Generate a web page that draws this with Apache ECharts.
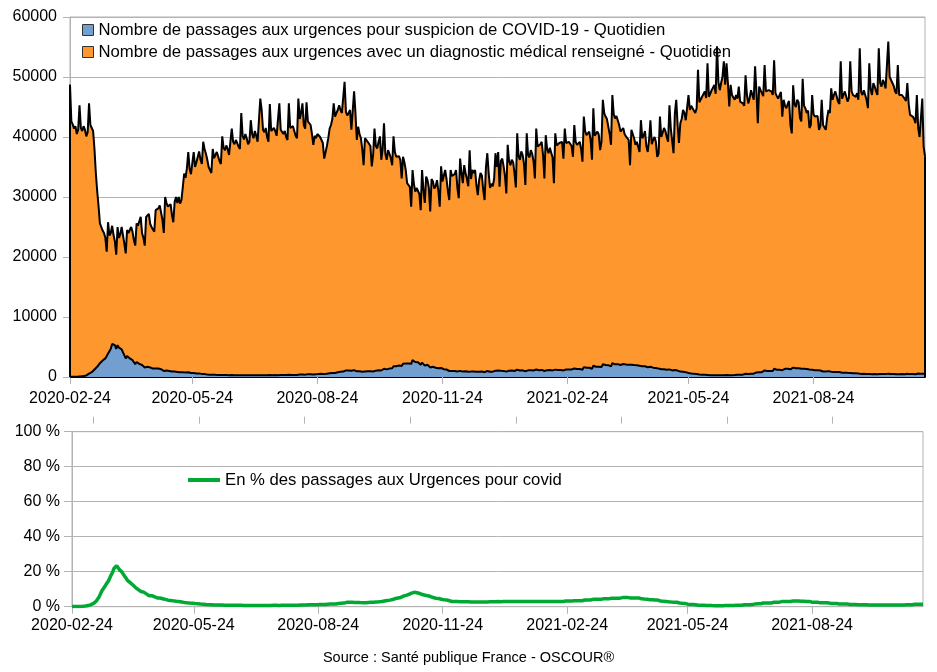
<!DOCTYPE html>
<html><head><meta charset="utf-8">
<script src="https://cdn.jsdelivr.net/npm/echarts@6/dist/echarts.min.js"></script>
<style>html,body{margin:0;padding:0;background:#fff}#c{width:937px;height:672px}</style>
</head><body><div id="c"></div>
<script>
const START_DATE = '2020-02-24';
const TICK_DATES = ['2020-02-24','2020-05-24','2020-08-24','2020-11-24','2021-02-24','2021-05-24','2021-08-24'];
const NAME_COVID = 'Nombre de passages aux urgences pour suspicion de COVID-19 - Quotidien';
const NAME_TOTAL = 'Nombre de passages aux urgences avec un diagnostic médical renseigné - Quotidien';
const NAME_PCT = 'En % des passages aux Urgences pour covid';
const SOURCE = 'Source : Santé publique France - OSCOUR®';

// daily totals, in hundreds of passages (one row = one week, Monday first)
const TOTAL_HUNDREDS = [
487,426,421,414,418,405,412,
453,415,410,418,412,401,408,
456,420,415,410,380,340,310,
285,256,250,244,240,232,209,
258,236,240,252,237,226,204,
250,232,238,250,236,222,206,
245,240,237,250,242,228,219,
256,252,253,267,240,232,219,
267,270,272,255,250,246,242,
278,276,281,286,284,262,240,
300,290,284,282,288,270,258,
292,300,290,300,289,295,317,
339,332,348,375,347,338,336,
375,350,358,355,376,362,355,
392,380,372,362,350,345,340,
380,365,370,375,372,360,355,
401,382,378,386,380,370,372,
414,392,388,395,390,384,380,
440,402,396,405,398,388,392,
428,405,398,410,402,392,395,
464,445,412,408,415,400,392,
455,410,408,415,410,402,400,
456,412,414,405,410,400,395,
456,415,412,418,410,402,398,
464,430,440,456,420,414,458,
426,428,420,405,387,402,398,
405,402,400,401,390,364,362,
385,398,414,420,430,456,434,
440,445,453,445,440,438,492,
442,436,440,445,412,414,476,
440,395,417,405,398,380,353,
398,395,392,390,385,351,370,
414,385,381,392,401,362,380,
423,372,362,378,372,365,353,
401,375,367,370,368,362,331,
367,358,345,323,320,317,284,
345,322,309,315,317,305,278,
345,312,290,334,328,315,276,
330,326,314,318,328,310,284,
351,326,323,345,330,310,295,
345,335,334,338,345,315,298,
364,340,323,353,340,330,318,
378,330,345,340,345,320,303,
328,340,336,312,295,350,373,
340,315,322,318,330,373,350,
375,317,360,364,351,335,306,
387,360,353,362,358,340,316,
406,368,362,376,370,355,320,
406,370,366,378,372,360,331,
414,384,381,388,392,370,331,
403,380,373,382,384,366,323,
406,386,385,390,388,392,364,
414,390,387,392,395,385,367,
420,392,387,390,392,380,359,
434,410,403,405,409,395,362,
448,402,405,409,404,378,392,
462,440,434,430,428,405,387,
470,438,431,435,437,420,409,
410,415,405,401,398,395,353,
412,405,398,387,392,389,375,
428,398,402,410,385,375,395,
428,388,395,400,392,367,372,
434,400,407,415,410,400,392,
453,414,412,373,440,462,420,
390,423,430,445,440,428,425,
470,445,452,448,450,440,448,
512,458,460,467,470,476,465,
523,467,472,478,482,487,472,
551,492,478,490,500,526,487,
523,490,451,487,470,466,462,
470,464,484,459,462,456,452,
503,470,456,465,478,470,462,
518,475,423,484,478,473,468,
520,476,473,478,481,476,470,
528,473,468,464,470,475,434,
462,452,448,455,460,420,406,
486,455,450,462,458,432,426,
497,452,448,440,444,415,420,
470,438,434,437,435,412,418,
462,420,417,412,432,445,440,
481,462,470,476,468,459,455,
526,464,470,476,468,459,465,
526,476,470,467,467,473,462,
548,475,470,478,481,462,448,
523,480,470,490,484,476,470,
548,490,484,495,490,481,478,
559,500,495,490,485,476,472,
520,470,472,470,468,464,460,
490,455,437,440,434,430,423,
470,415,400,398,464,384,368
];

// daily passages for suspected COVID-19
const COVID = [
30,35,40,45,55,60,70,
90,110,140,170,210,260,320,
560,650,800,950,1250,1500,1700,
1850,2300,2500,2750,3000,3100,3100,
3900,4300,4700,5500,5400,5300,4700,
5300,4900,4700,4600,4100,3600,3100,
3500,3300,3100,3100,2800,2500,2150,
2500,2300,2200,2250,2000,1800,1600,
1800,1700,1700,1600,1450,1400,1300,
1400,1350,1400,1350,1300,1150,1000,
1150,1080,1020,1000,980,900,820,
900,900,850,820,780,750,780,
800,760,760,800,720,680,680,
680,620,600,580,580,540,520,
520,480,450,420,400,390,380,
390,370,360,360,350,340,340,
360,340,330,330,320,310,310,
330,310,300,300,300,290,290,
320,300,290,290,290,280,280,
310,300,290,300,290,280,285,
330,310,300,300,300,290,285,
340,320,310,320,315,305,300,
350,330,325,320,325,315,310,
370,345,340,345,340,330,330,
420,400,410,420,400,395,420,
450,460,450,440,420,440,440,
520,520,520,530,510,480,480,
560,600,630,650,660,700,670,
760,800,840,860,880,900,1050,
1100,1080,1100,1110,1030,1030,1150,
1050,950,980,950,930,880,820,
920,930,950,960,960,900,920,
1150,1060,1060,1110,1160,1080,1140,
1380,1250,1270,1370,1400,1420,1450,
1800,1750,1800,1850,1900,1920,1850,
2200,2250,2250,2180,2250,2300,2200,
2800,2650,2500,2500,2450,2300,2050,
2400,2100,1900,2150,2050,1900,1600,
1800,1700,1600,1550,1550,1450,1300,
1500,1350,1300,1330,1250,1150,1000,
1050,1000,1000,1000,1020,930,870,
1020,950,900,980,950,920,890,
1030,900,930,920,930,870,820,
890,920,910,850,800,950,1000,
950,880,900,890,920,1040,980,
1090,920,1040,1060,1020,970,890,
1140,1060,1040,1070,1060,1000,940,
1220,1100,1090,1130,1110,1070,960,
1220,1110,1100,1130,1120,1080,1000,
1240,1150,1140,1160,1180,1110,1000,
1210,1140,1120,1150,1150,1100,970,
1230,1160,1160,1170,1160,1180,1100,
1320,1250,1240,1250,1260,1230,1170,
1430,1330,1320,1330,1330,1290,1220,
1650,1560,1530,1540,1550,1500,1380,
1880,1690,1700,1720,1700,1590,1650,
2120,2020,2000,1980,1970,1860,1780,
2300,2150,2110,2130,2140,2060,2000,
2130,2160,2110,2090,2070,2050,1840,
2060,2020,1990,1930,1960,1940,1880,
1930,1790,1790,1800,1680,1620,1700,
1710,1550,1560,1560,1510,1410,1400,
1430,1300,1300,1300,1250,1200,1150,
1270,1130,1100,990,1150,1150,1070,
900,900,880,870,850,810,780,
680,600,580,560,540,510,490,
450,400,380,370,360,360,340,
340,310,300,300,300,300,290,
330,300,290,290,300,310,290,
340,320,300,320,310,310,320,
380,370,390,380,390,390,400,
550,520,510,530,550,550,560,
830,760,700,800,800,800,800,
1090,1000,1000,1010,1020,1010,1000,
1370,1230,1220,1210,1220,1240,1130,
1400,1370,1350,1380,1390,1280,1230,
1560,1470,1450,1480,1470,1400,1380,
1520,1390,1370,1340,1340,1240,1260,
1220,1140,1130,1130,1130,1070,1090,
1020,920,920,900,950,980,970,
870,830,850,860,840,830,820,
790,700,700,710,700,690,700,
680,620,610,610,610,610,600,
600,520,520,530,530,510,490,
520,480,470,490,480,480,470,
550,490,480,490,490,480,480,
560,500,500,490,490,480,470,
520,470,480,480,480,470,470,
540,500,480,490,480,480,470,
640,570,560,560,650,550,540
];

const TOTAL = TOTAL_HUNDREDS.map(v => v * 100);
const N = TOTAL.length;
const t0 = new Date(START_DATE + 'T00:00:00Z').getTime();
const CATS = Array.from({length: N}, (_, i) => new Date(t0 + i * 86400000).toISOString().slice(0, 10));
const PCT = COVID.map((c, i) => +(c / TOTAL[i] * 100).toFixed(2));

const GRAY = '#b3b3b3';
const FONT = "'Liberation Sans', Arial, sans-serif";
const tickSet = new Set(TICK_DATES);
const onTick = (i, v) => tickSet.has(v);

const xBase = (grid, lineColor, lineWidth, margin) => ({
  type: 'category', gridIndex: grid, data: CATS, boundaryGap: false,
  axisLine: {show: true, lineStyle: {color: lineColor, width: lineWidth}},
  axisTick: {show: true, interval: onTick, length: 7, lineStyle: {color: GRAY}},
  axisLabel: {interval: onTick, color: '#000', fontSize: 16, fontFamily: FONT, margin: margin},
  splitLine: {show: false}
});

const chart = echarts.init(document.getElementById('c'), null, {renderer: 'canvas'});
chart.setOption({
  animation: false,
  backgroundColor: '#fff',
  textStyle: {fontFamily: FONT},
  grid: [
    {left: 70, right: 12, top: 17, height: 360, show: true, borderColor: GRAY, borderWidth: 1},
    {left: 72, right: 14, top: 431.7, height: 175, show: true, borderColor: GRAY, borderWidth: 1}
  ],
  legend: [
    {
      orient: 'vertical', left: 82, top: 20, padding: 0, itemGap: 2, itemWidth: 11, itemHeight: 11,
      textStyle: {fontSize: 16.7, color: '#000', fontFamily: FONT, lineHeight: 20},
      data: [
        {name: NAME_COVID, icon: 'rect', itemStyle: {color: '#729fcf', borderColor: '#333', borderWidth: 1}},
        {name: NAME_TOTAL, icon: 'rect', itemStyle: {color: '#ff972f', borderColor: '#333', borderWidth: 1}}
      ]
    },
    {
      left: 188, top: 470, padding: 0, itemWidth: 32, itemHeight: 4,
      textStyle: {fontSize: 16.7, color: '#000', fontFamily: FONT, lineHeight: 20},
      data: [{name: NAME_PCT, icon: 'rect', itemStyle: {color: '#00a933', borderWidth: 0}}]
    }
  ],
  xAxis: [
    xBase(0, '#000', 2, 14),
    xBase(1, GRAY, 1, 11),
    {
      type: 'category', gridIndex: 1, data: CATS, boundaryGap: false, position: 'top', offset: 8,
      axisLine: {show: false}, axisLabel: {show: false}, splitLine: {show: false},
      axisTick: {show: true, length: 7, interval: (i) => i % 78 === 16, lineStyle: {color: GRAY}}
    }
  ],
  yAxis: [
    {
      type: 'value', gridIndex: 0, min: 0, max: 60000, interval: 10000,
      axisLine: {show: true, lineStyle: {color: GRAY}},
      axisTick: {show: true, length: 7, lineStyle: {color: GRAY}},
      axisLabel: {color: '#000', fontSize: 16, fontFamily: FONT, margin: 13, formatter: v => String(v)},
      splitLine: {show: true, lineStyle: {color: GRAY}}
    },
    {
      type: 'value', gridIndex: 1, min: 0, max: 100, interval: 20,
      axisLine: {show: true, lineStyle: {color: GRAY}},
      axisTick: {show: true, length: 8, lineStyle: {color: GRAY}},
      axisLabel: {color: '#000', fontSize: 16, fontFamily: FONT, margin: 12, formatter: v => v + ' %'},
      splitLine: {show: true, lineStyle: {color: GRAY}}
    }
  ],
  series: [
    {
      name: NAME_TOTAL, type: 'line', xAxisIndex: 0, yAxisIndex: 0, data: TOTAL,
      symbol: 'none', sampling: null, z: 2,
      itemStyle: {color: '#ff972f'},
      lineStyle: {color: '#000', width: 2},
      areaStyle: {color: '#ff972f', opacity: 1},
      markLine: {
        silent: true, symbol: ['none', 'none'], label: {show: false},
        lineStyle: {color: '#000', width: 2, type: 'solid'},
        data: [
          [{coord: [CATS[0], 0]}, {coord: [CATS[0], TOTAL[0]]}],
          [{coord: [CATS[N - 1], 0]}, {coord: [CATS[N - 1], TOTAL[N - 1]]}]
        ]
      }
    },
    {
      name: NAME_COVID, type: 'line', xAxisIndex: 0, yAxisIndex: 0, data: COVID,
      symbol: 'none', z: 3,
      itemStyle: {color: '#729fcf'},
      lineStyle: {color: '#000', width: 2},
      areaStyle: {color: '#729fcf', opacity: 1}
    },
    {
      name: NAME_PCT, type: 'line', xAxisIndex: 1, yAxisIndex: 1, data: PCT,
      symbol: 'none', z: 3,
      itemStyle: {color: '#00a933'},
      lineStyle: {color: '#00a933', width: 3.5}
    }
  ],
  graphic: [
    {type: 'text', left: 'center', top: 650, style: {text: SOURCE, fontSize: 14.5, fill: '#000', fontFamily: FONT}}
  ]
});
</script>
</body></html>
